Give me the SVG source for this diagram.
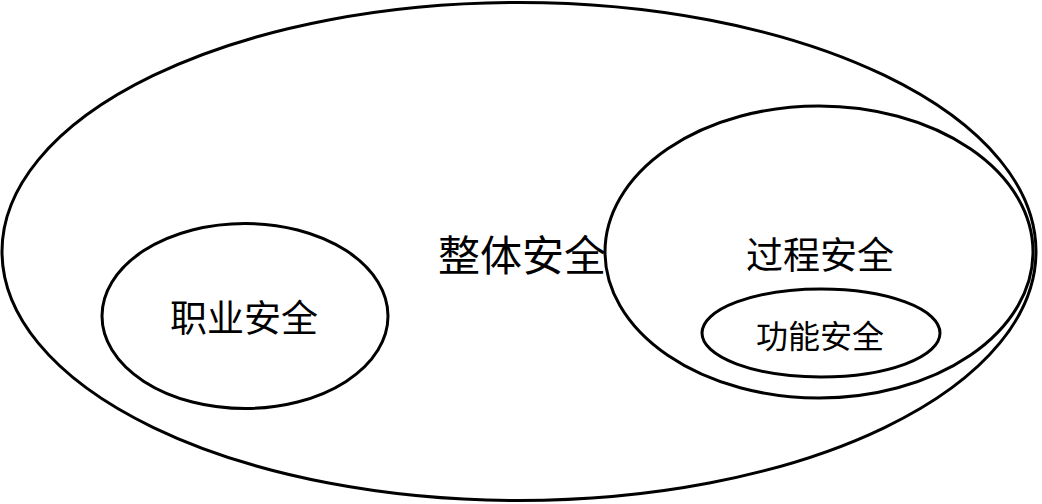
<svg xmlns="http://www.w3.org/2000/svg" width="1042" height="504" viewBox="0 0 1042 504">
<style>
.e{fill:none;stroke:#000;stroke-width:3}
.t{font-family:"Noto Sans CJK SC","Noto Sans",sans-serif;fill:#000;text-anchor:middle}
</style>
<rect width="1042" height="504" fill="#fff"/>
<g id="overall">
<ellipse class="e" cx="519" cy="251.5" rx="517" ry="249"/>
<text class="t" x="522" y="271" font-size="42">整体安全</text>
</g>
<g id="occupational">
<ellipse class="e" cx="245" cy="316" rx="143" ry="92.5"/>
<text class="t" x="244" y="332" font-size="37">职业安全</text>
</g>
<g id="process">
<ellipse class="e" cx="819" cy="252" rx="214" ry="146"/>
<text class="t" x="820" y="269" font-size="37">过程安全</text>
</g>
<g id="functional">
<ellipse class="e" cx="821" cy="333" rx="119" ry="44"/>
<text class="t" x="820" y="348" font-size="32">功能安全</text>
</g>
<g id="connectors"/>
</svg>
